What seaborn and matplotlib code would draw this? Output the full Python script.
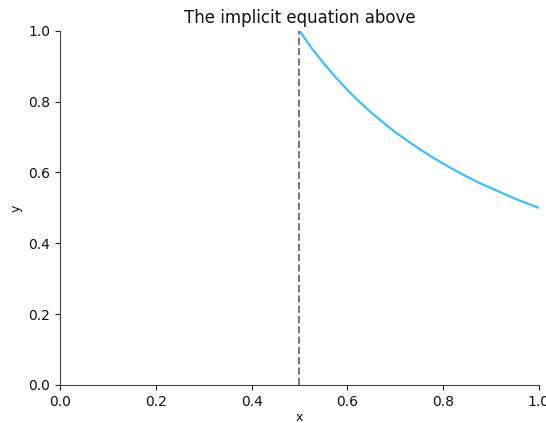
import matplotlib
matplotlib.use("Agg")
import matplotlib.pyplot as plt
import seaborn as sns
import pandas as pd

sns.set_style("ticks")
plt.rcParams['font.family'] = ['DejaVu Sans']

x_vals = [0.500, 0.525, 0.550, 0.575, 0.600, 0.625, 0.650, 0.675, 0.700, 0.725,
          0.750, 0.775, 0.800, 0.825, 0.850, 0.875, 0.900, 0.925, 0.950, 0.975, 1.000]
y_vals = [1.000, 0.952, 0.909, 0.870, 0.833, 0.800, 0.769, 0.741, 0.714, 0.690,
          0.667, 0.645, 0.625, 0.606, 0.588, 0.571, 0.556, 0.541, 0.526, 0.513, 0.500]
asymptote_x = 0.5

df = pd.DataFrame({"x": x_vals, "y": y_vals})

fig = plt.figure(figsize=(5.46, 4.23), dpi=100)
ax = fig.add_axes([0.11, 0.09, 0.877, 0.837])
sns.lineplot(data=df, x="x", y="y", ax=ax, color="#3DBEFF", linewidth=1.6)
ax.axvline(asymptote_x, color="#777777", linestyle="--", linewidth=1.4)
ax.set_xlim(0, 1)
ax.set_ylim(0, 1)
ax.set_title("The implicit equation above", fontsize=12, color="#111111")
ax.set_xlabel("x", fontsize=9, labelpad=2, color="#111111")
ax.set_ylabel("y", fontsize=9, color="#111111")
ax.tick_params(colors="#222222", labelcolor="#111111")
for s in ["left", "bottom"]:
    ax.spines[s].set_color("#444444")
sns.despine(ax=ax)
fig.savefig("out.png", dpi=100)
